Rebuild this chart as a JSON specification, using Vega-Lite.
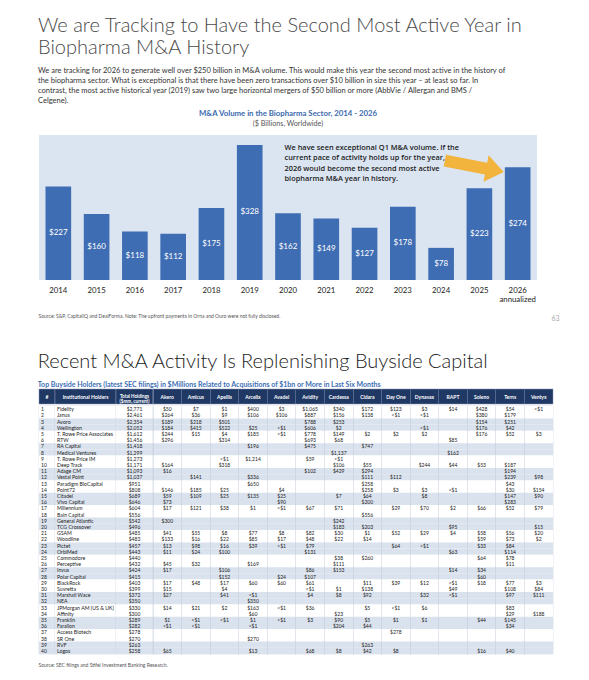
{
  "$schema": "https://vega.github.io/schema/vega-lite/v6.json",
  "padding": {"left": 37, "top": 15, "right": 4, "bottom": 4},
  "background": "white",
  "config": {"font": "Lato", "mark": {"font": "Lato"}, "text": {"font": "Lato"}, "view": {"stroke": null}},
  "datasets": {
    "bars": [
      {"year": "2014", "value": 227}, {"year": "2015", "value": 160}, {"year": "2016", "value": 118},
      {"year": "2017", "value": 112}, {"year": "2018", "value": 175}, {"year": "2019", "value": 328},
      {"year": "2020", "value": 162}, {"year": "2021", "value": 149}, {"year": "2022", "value": 127},
      {"year": "2023", "value": 178}, {"year": "2024", "value": 78}, {"year": "2025", "value": 223},
      {"year": "2026", "value": 274}
    ],
    "note": [
      {"note": "We have seen exceptional Q1 M&A volume."}
    ],
    "holders": [
      {"n": 1, "name": "Fidelity", "total": 2771}, {"n": 2, "name": "Janus", "total": 2461},
      {"n": 3, "name": "Avoro", "total": 2354}, {"n": 4, "name": "Wellington", "total": 2052},
      {"n": 5, "name": "T. Rowe Price Associates", "total": 1612}, {"n": 6, "name": "RTW", "total": 1456},
      {"n": 7, "name": "RA Capital", "total": 1418}, {"n": 8, "name": "Medical Ventures", "total": 1299},
      {"n": 9, "name": "T. Rowe Price IM", "total": 1273}, {"n": 10, "name": "Deep Track", "total": 1171},
      {"n": 11, "name": "Adage CM", "total": 1093}, {"n": 12, "name": "Vestal Point", "total": 1037},
      {"n": 13, "name": "Paradigm BioCapital", "total": 951}, {"n": 14, "name": "Point72", "total": 808},
      {"n": 15, "name": "Citadel", "total": 689}, {"n": 16, "name": "Vivo Capital", "total": 646},
      {"n": 17, "name": "Millennium", "total": 604}, {"n": 18, "name": "Bain Capital", "total": 556},
      {"n": 19, "name": "General Atlantic", "total": 542}, {"n": 20, "name": "TCG Crossover", "total": 496},
      {"n": 21, "name": "GSAM", "total": 485}, {"n": 22, "name": "Woodline", "total": 483},
      {"n": 23, "name": "Pictet", "total": 457}, {"n": 24, "name": "OrbiMed", "total": 443},
      {"n": 25, "name": "Commodore", "total": 440}, {"n": 26, "name": "Perceptive", "total": 432},
      {"n": 27, "name": "Invus", "total": 424}, {"n": 28, "name": "Polar Capital", "total": 415},
      {"n": 29, "name": "BlackRock", "total": 403}, {"n": 30, "name": "Suvretta", "total": 399},
      {"n": 31, "name": "Marshall Wace", "total": 372}, {"n": 32, "name": "NEA", "total": 350},
      {"n": 33, "name": "JPMorgan AM (US & UK)", "total": 330}, {"n": 34, "name": "Affinity", "total": 300},
      {"n": 35, "name": "Franklin", "total": 289}, {"n": 36, "name": "Farallon", "total": 282},
      {"n": 37, "name": "Access Biotech", "total": 278}, {"n": 38, "name": "SR One", "total": 270},
      {"n": 39, "name": "RVF", "total": 263}, {"n": 40, "name": "Logos", "total": 258}
    ],
    "cos": [
      {"co": "Akero"}, {"co": "Amicus"}, {"co": "Apellis"}, {"co": "Arcellx"}, {"co": "Avadel"},
      {"co": "Avidity"}, {"co": "Cardessa"}, {"co": "Cidara"}, {"co": "Day One"}, {"co": "Dynavax"},
      {"co": "RAPT"}, {"co": "Soleno"}, {"co": "Terns"}, {"co": "Ventyx"}
    ],
    "cells": [
      {"n": 1, "co": "Akero", "v": "$50"}, {"n": 1, "co": "Amicus", "v": "$7"}, {"n": 1, "co": "Apellis", "v": "$1"}, {"n": 1, "co": "Arcellx", "v": "$400"}, {"n": 1, "co": "Avadel", "v": "$3"}, {"n": 1, "co": "Avidity", "v": "$1,065"}, {"n": 1, "co": "Cardessa", "v": "$340"}, {"n": 1, "co": "Cidara", "v": "$172"}, {"n": 1, "co": "Day One", "v": "$123"}, {"n": 1, "co": "Dynavax", "v": "$3"}, {"n": 1, "co": "RAPT", "v": "$14"}, {"n": 1, "co": "Soleno", "v": "$428"}, {"n": 1, "co": "Terns", "v": "$54"}, {"n": 1, "co": "Ventyx", "v": "<$1"},
      {"n": 2, "co": "Akero", "v": "$264"}, {"n": 2, "co": "Amicus", "v": "$36"}, {"n": 2, "co": "Apellis", "v": "$9"}, {"n": 2, "co": "Arcellx", "v": "$106"}, {"n": 2, "co": "Avadel", "v": "$106"}, {"n": 2, "co": "Avidity", "v": "$887"}, {"n": 2, "co": "Cardessa", "v": "$156"}, {"n": 2, "co": "Cidara", "v": "$138"}, {"n": 2, "co": "Day One", "v": "<$1"}, {"n": 2, "co": "Dynavax", "v": "<$1"}, {"n": 2, "co": "Soleno", "v": "$380"}, {"n": 2, "co": "Terns", "v": "$179"},
      {"n": 3, "co": "Akero", "v": "$189"}, {"n": 3, "co": "Amicus", "v": "$218"}, {"n": 3, "co": "Apellis", "v": "$501"}, {"n": 3, "co": "Avidity", "v": "$788"}, {"n": 3, "co": "Cardessa", "v": "$253"}, {"n": 3, "co": "Soleno", "v": "$154"}, {"n": 3, "co": "Terns", "v": "$251"},
      {"n": 4, "co": "Akero", "v": "$184"}, {"n": 4, "co": "Amicus", "v": "$415"}, {"n": 4, "co": "Apellis", "v": "$522"}, {"n": 4, "co": "Arcellx", "v": "$25"}, {"n": 4, "co": "Avadel", "v": "<$1"}, {"n": 4, "co": "Avidity", "v": "$606"}, {"n": 4, "co": "Cardessa", "v": "$2"}, {"n": 4, "co": "Dynavax", "v": "<$1"}, {"n": 4, "co": "Soleno", "v": "$176"}, {"n": 4, "co": "Terns", "v": "$42"},
      {"n": 5, "co": "Akero", "v": "$244"}, {"n": 5, "co": "Amicus", "v": "$15"}, {"n": 5, "co": "Apellis", "v": "$4"}, {"n": 5, "co": "Arcellx", "v": "$185"}, {"n": 5, "co": "Avadel", "v": "<$1"}, {"n": 5, "co": "Avidity", "v": "$778"}, {"n": 5, "co": "Cardessa", "v": "$149"}, {"n": 5, "co": "Cidara", "v": "$2"}, {"n": 5, "co": "Day One", "v": "$2"}, {"n": 5, "co": "Dynavax", "v": "$2"}, {"n": 5, "co": "Soleno", "v": "$176"}, {"n": 5, "co": "Terns", "v": "$52"}, {"n": 5, "co": "Ventyx", "v": "$3"},
      {"n": 6, "co": "Akero", "v": "$296"}, {"n": 6, "co": "Apellis", "v": "$314"}, {"n": 6, "co": "Avidity", "v": "$693"}, {"n": 6, "co": "Cardessa", "v": "$68"}, {"n": 6, "co": "RAPT", "v": "$85"},
      {"n": 7, "co": "Arcellx", "v": "$196"}, {"n": 7, "co": "Avidity", "v": "$475"}, {"n": 7, "co": "Cidara", "v": "$747"},
      {"n": 8, "co": "Cardessa", "v": "$1,137"}, {"n": 8, "co": "RAPT", "v": "$162"},
      {"n": 9, "co": "Apellis", "v": "<$1"}, {"n": 9, "co": "Arcellx", "v": "$1,214"}, {"n": 9, "co": "Avidity", "v": "$59"}, {"n": 9, "co": "Cardessa", "v": "<$1"},
      {"n": 10, "co": "Akero", "v": "$164"}, {"n": 10, "co": "Apellis", "v": "$318"}, {"n": 10, "co": "Cardessa", "v": "$106"}, {"n": 10, "co": "Cidara", "v": "$55"}, {"n": 10, "co": "Dynavax", "v": "$244"}, {"n": 10, "co": "RAPT", "v": "$44"}, {"n": 10, "co": "Soleno", "v": "$53"}, {"n": 10, "co": "Terns", "v": "$187"},
      {"n": 11, "co": "Akero", "v": "$16"}, {"n": 11, "co": "Avidity", "v": "$102"}, {"n": 11, "co": "Cardessa", "v": "$429"}, {"n": 11, "co": "Cidara", "v": "$294"}, {"n": 11, "co": "Terns", "v": "$194"},
      {"n": 12, "co": "Amicus", "v": "$141"}, {"n": 12, "co": "Arcellx", "v": "$336"}, {"n": 12, "co": "Cidara", "v": "$111"}, {"n": 12, "co": "Day One", "v": "$112"}, {"n": 12, "co": "Terns", "v": "$239"}, {"n": 12, "co": "Ventyx", "v": "$98"},
      {"n": 13, "co": "Arcellx", "v": "$650"}, {"n": 13, "co": "Cidara", "v": "$258"}, {"n": 13, "co": "Terns", "v": "$43"},
      {"n": 14, "co": "Akero", "v": "$146"}, {"n": 14, "co": "Amicus", "v": "$185"}, {"n": 14, "co": "Apellis", "v": "$25"}, {"n": 14, "co": "Avadel", "v": "$4"}, {"n": 14, "co": "Cidara", "v": "$258"}, {"n": 14, "co": "Day One", "v": "$3"}, {"n": 14, "co": "Dynavax", "v": "$3"}, {"n": 14, "co": "RAPT", "v": "<$1"}, {"n": 14, "co": "Terns", "v": "$30"}, {"n": 14, "co": "Ventyx", "v": "$154"},
      {"n": 15, "co": "Akero", "v": "$59"}, {"n": 15, "co": "Amicus", "v": "$109"}, {"n": 15, "co": "Apellis", "v": "$25"}, {"n": 15, "co": "Arcellx", "v": "$135"}, {"n": 15, "co": "Avadel", "v": "$25"}, {"n": 15, "co": "Cardessa", "v": "$7"}, {"n": 15, "co": "Cidara", "v": "$64"}, {"n": 15, "co": "Dynavax", "v": "$8"}, {"n": 15, "co": "Terns", "v": "$147"}, {"n": 15, "co": "Ventyx", "v": "$90"},
      {"n": 16, "co": "Akero", "v": "$73"}, {"n": 16, "co": "Avadel", "v": "$90"}, {"n": 16, "co": "Cidara", "v": "$200"}, {"n": 16, "co": "Terns", "v": "$283"},
      {"n": 17, "co": "Akero", "v": "$17"}, {"n": 17, "co": "Amicus", "v": "$121"}, {"n": 17, "co": "Apellis", "v": "$38"}, {"n": 17, "co": "Arcellx", "v": "$1"}, {"n": 17, "co": "Avadel", "v": "<$1"}, {"n": 17, "co": "Avidity", "v": "$67"}, {"n": 17, "co": "Cardessa", "v": "$71"}, {"n": 17, "co": "Day One", "v": "$29"}, {"n": 17, "co": "Dynavax", "v": "$70"}, {"n": 17, "co": "RAPT", "v": "$2"}, {"n": 17, "co": "Soleno", "v": "$66"}, {"n": 17, "co": "Terns", "v": "$52"}, {"n": 17, "co": "Ventyx", "v": "$79"},
      {"n": 18, "co": "Cidara", "v": "$556"},
      {"n": 19, "co": "Akero", "v": "$300"}, {"n": 19, "co": "Cardessa", "v": "$242"},
      {"n": 20, "co": "Cardessa", "v": "$183"}, {"n": 20, "co": "Cidara", "v": "$203"}, {"n": 20, "co": "RAPT", "v": "$95"}, {"n": 20, "co": "Ventyx", "v": "$15"},
      {"n": 21, "co": "Akero", "v": "$41"}, {"n": 21, "co": "Amicus", "v": "$55"}, {"n": 21, "co": "Apellis", "v": "$8"}, {"n": 21, "co": "Arcellx", "v": "$77"}, {"n": 21, "co": "Avadel", "v": "$8"}, {"n": 21, "co": "Avidity", "v": "$82"}, {"n": 21, "co": "Cardessa", "v": "$30"}, {"n": 21, "co": "Cidara", "v": "$1"}, {"n": 21, "co": "Day One", "v": "$52"}, {"n": 21, "co": "Dynavax", "v": "$29"}, {"n": 21, "co": "RAPT", "v": "$4"}, {"n": 21, "co": "Soleno", "v": "$58"}, {"n": 21, "co": "Terns", "v": "$56"}, {"n": 21, "co": "Ventyx", "v": "$20"},
      {"n": 22, "co": "Akero", "v": "$133"}, {"n": 22, "co": "Amicus", "v": "$16"}, {"n": 22, "co": "Apellis", "v": "$22"}, {"n": 22, "co": "Arcellx", "v": "$85"}, {"n": 22, "co": "Avadel", "v": "$17"}, {"n": 22, "co": "Avidity", "v": "$48"}, {"n": 22, "co": "Cardessa", "v": "$22"}, {"n": 22, "co": "Cidara", "v": "$14"}, {"n": 22, "co": "Soleno", "v": "$59"}, {"n": 22, "co": "Terns", "v": "$73"}, {"n": 22, "co": "Ventyx", "v": "$2"},
      {"n": 23, "co": "Akero", "v": "$13"}, {"n": 23, "co": "Amicus", "v": "$98"}, {"n": 23, "co": "Apellis", "v": "$16"}, {"n": 23, "co": "Arcellx", "v": "$39"}, {"n": 23, "co": "Avadel", "v": "<$1"}, {"n": 23, "co": "Avidity", "v": "$79"}, {"n": 23, "co": "Day One", "v": "$64"}, {"n": 23, "co": "Dynavax", "v": "<$1"}, {"n": 23, "co": "Soleno", "v": "$33"}, {"n": 23, "co": "Terns", "v": "$84"},
      {"n": 24, "co": "Akero", "v": "$11"}, {"n": 24, "co": "Amicus", "v": "$24"}, {"n": 24, "co": "Apellis", "v": "$100"}, {"n": 24, "co": "Avidity", "v": "$131"}, {"n": 24, "co": "RAPT", "v": "$63"}, {"n": 24, "co": "Terns", "v": "$114"},
      {"n": 25, "co": "Cardessa", "v": "$38"}, {"n": 25, "co": "Cidara", "v": "$260"}, {"n": 25, "co": "Soleno", "v": "$64"}, {"n": 25, "co": "Terns", "v": "$78"},
      {"n": 26, "co": "Akero", "v": "$45"}, {"n": 26, "co": "Amicus", "v": "$32"}, {"n": 26, "co": "Arcellx", "v": "$169"}, {"n": 26, "co": "Cardessa", "v": "$111"}, {"n": 26, "co": "Terns", "v": "$11"},
      {"n": 27, "co": "Akero", "v": "$17"}, {"n": 27, "co": "Apellis", "v": "$106"}, {"n": 27, "co": "Avidity", "v": "$86"}, {"n": 27, "co": "Cardessa", "v": "$153"}, {"n": 27, "co": "RAPT", "v": "$14"}, {"n": 27, "co": "Soleno", "v": "$34"},
      {"n": 28, "co": "Apellis", "v": "$152"}, {"n": 28, "co": "Avadel", "v": "$24"}, {"n": 28, "co": "Avidity", "v": "$107"}, {"n": 28, "co": "Soleno", "v": "$60"},
      {"n": 29, "co": "Akero", "v": "$17"}, {"n": 29, "co": "Amicus", "v": "$48"}, {"n": 29, "co": "Apellis", "v": "$17"}, {"n": 29, "co": "Arcellx", "v": "$60"}, {"n": 29, "co": "Avadel", "v": "$60"}, {"n": 29, "co": "Avidity", "v": "$61"}, {"n": 29, "co": "Cidara", "v": "$11"}, {"n": 29, "co": "Day One", "v": "$39"}, {"n": 29, "co": "Dynavax", "v": "$12"}, {"n": 29, "co": "RAPT", "v": "<$1"}, {"n": 29, "co": "Soleno", "v": "$18"}, {"n": 29, "co": "Terns", "v": "$77"}, {"n": 29, "co": "Ventyx", "v": "$3"},
      {"n": 30, "co": "Akero", "v": "$15"}, {"n": 30, "co": "Apellis", "v": "$4"}, {"n": 30, "co": "Avidity", "v": "<$1"}, {"n": 30, "co": "Cardessa", "v": "$1"}, {"n": 30, "co": "Cidara", "v": "$138"}, {"n": 30, "co": "RAPT", "v": "$49"}, {"n": 30, "co": "Terns", "v": "$108"}, {"n": 30, "co": "Ventyx", "v": "$84"},
      {"n": 31, "co": "Akero", "v": "$27"}, {"n": 31, "co": "Apellis", "v": "$41"}, {"n": 31, "co": "Arcellx", "v": "<$1"}, {"n": 31, "co": "Avidity", "v": "$4"}, {"n": 31, "co": "Cardessa", "v": "$8"}, {"n": 31, "co": "Cidara", "v": "$92"}, {"n": 31, "co": "Dynavax", "v": "$32"}, {"n": 31, "co": "RAPT", "v": "<$1"}, {"n": 31, "co": "Terns", "v": "$97"}, {"n": 31, "co": "Ventyx", "v": "$111"},
      {"n": 32, "co": "Arcellx", "v": "$350"},
      {"n": 33, "co": "Akero", "v": "$14"}, {"n": 33, "co": "Amicus", "v": "$21"}, {"n": 33, "co": "Apellis", "v": "$2"}, {"n": 33, "co": "Arcellx", "v": "$163"}, {"n": 33, "co": "Avadel", "v": "<$1"}, {"n": 33, "co": "Avidity", "v": "$36"}, {"n": 33, "co": "Cidara", "v": "$5"}, {"n": 33, "co": "Day One", "v": "<$1"}, {"n": 33, "co": "Dynavax", "v": "$6"}, {"n": 33, "co": "Terns", "v": "$83"},
      {"n": 34, "co": "Arcellx", "v": "$60"}, {"n": 34, "co": "Cardessa", "v": "$23"}, {"n": 34, "co": "Terns", "v": "$29"}, {"n": 34, "co": "Ventyx", "v": "$188"},
      {"n": 35, "co": "Akero", "v": "$1"}, {"n": 35, "co": "Amicus", "v": "<$1"}, {"n": 35, "co": "Apellis", "v": "<$1"}, {"n": 35, "co": "Arcellx", "v": "$1"}, {"n": 35, "co": "Avadel", "v": "<$1"}, {"n": 35, "co": "Avidity", "v": "$3"}, {"n": 35, "co": "Cardessa", "v": "$90"}, {"n": 35, "co": "Cidara", "v": "$5"}, {"n": 35, "co": "Day One", "v": "$1"}, {"n": 35, "co": "Dynavax", "v": "$1"}, {"n": 35, "co": "Soleno", "v": "$44"}, {"n": 35, "co": "Terns", "v": "$145"},
      {"n": 36, "co": "Akero", "v": "<$1"}, {"n": 36, "co": "Amicus", "v": "<$1"}, {"n": 36, "co": "Arcellx", "v": "<$1"}, {"n": 36, "co": "Cardessa", "v": "$204"}, {"n": 36, "co": "Cidara", "v": "$44"}, {"n": 36, "co": "Terns", "v": "$34"},
      {"n": 37, "co": "Day One", "v": "$278"},
      {"n": 38, "co": "Arcellx", "v": "$270"},
      {"n": 39, "co": "Cidara", "v": "$263"},
      {"n": 40, "co": "Akero", "v": "$65"}, {"n": 40, "co": "Arcellx", "v": "$13"}, {"n": 40, "co": "Avidity", "v": "$68"}, {"n": 40, "co": "Cardessa", "v": "$8"}, {"n": 40, "co": "Cidara", "v": "$42"}, {"n": 40, "co": "Day One", "v": "$8"}, {"n": 40, "co": "Soleno", "v": "$16"}, {"n": 40, "co": "Terns", "v": "$40"}
    ]
  },
  "spacing": 30,
  "vconcat": [
    {
      "title": {
        "text": ["We are Tracking to Have the Second Most Active Year in", "Biopharma M&A History"],
        "subtitle": [
          "We are tracking for 2026 to generate well over $250 billion in M&A volume. This would make this year the second most active in the history of",
          "the biopharma sector. What is exceptional is that there have been zero transactions over $10 billion in size this year – at least so far. In",
          "contrast, the most active historical year (2019) saw two large horizontal mergers of $50 billion or more (AbbVie / Allergan and BMS /",
          "Celgene)."
        ],
        "anchor": "start", "font": "Lato", "fontSize": 20, "fontWeight": 300, "color": "#4a4a4a", "lineHeight": 22,
        "subtitleFont": "Lato", "subtitleFontSize": 7.5, "subtitleColor": "#333333", "subtitleLineHeight": 10,
        "subtitlePadding": 9, "offset": 6
      },
      "vconcat": [
        {
          "title": {
            "text": "M&A Volume in the Biopharma Sector, 2014 - 2026",
            "subtitle": "($ Billions, Worldwide)",
            "anchor": "middle", "font": "Lato", "fontSize": 7.8, "fontWeight": "bold", "color": "#3a69ad",
            "subtitleFont": "Lato", "subtitleFontSize": 7.2, "subtitleColor": "#555555", "subtitlePadding": 2, "offset": 8
          },
          "width": 498,
          "height": 145,
          "view": {"fill": "#dbe5f1", "stroke": null},
          "layer": [
            {
              "data": {"name": "bars"},
              "mark": {"type": "bar", "color": "#3f6db4"},
              "encoding": {
                "x": {
                  "field": "year", "type": "nominal",
                  "scale": {"type": "band", "paddingInner": 0.33, "paddingOuter": 0.17},
                  "axis": {
                    "title": "Source: S&P, CapitalIQ and DealForma. Note: The upfront payments in Orna and Ouro were not fully disclosed.",
                    "titleAnchor": "start", "titleAlign": "left", "titleX": -1, "titleY": 35, "titleBaseline": "middle",
                    "titleFont": "Lato", "titleFontSize": 5, "titleFontWeight": "normal", "titleColor": "#555555",
                    "labelAngle": 0, "labelFont": "Lato", "labelFontSize": 7.8, "labelColor": "#222222", "labelPadding": 6,
                    "labelLineHeight": 9.5, "labelBaseline": "top",
                    "labelExpr": "datum.label == '2026' ? ['2026', 'annualized'] : datum.label",
                    "ticks": false, "domain": false
                  }
                },
                "y": {
                  "field": "value", "type": "quantitative",
                  "scale": {"domain": [0, 352]},
                  "axis": {
                    "orient": "right", "labels": false, "ticks": false, "domain": false, "grid": false,
                    "title": "63", "titleAngle": 0, "titleX": 18, "titleY": 183, "titleAlign": "center",
                    "titleBaseline": "middle", "titleFont": "Lato", "titleFontSize": 7, "titleFontWeight": "normal", "titleColor": "#aaaaaa"
                  }
                }
              }
            },
            {
              "data": {"name": "bars"},
              "mark": {"type": "text", "font": "Lato", "color": "white", "fontSize": 8},
              "encoding": {
                "x": {"field": "year", "type": "nominal", "scale": {"type": "band", "paddingInner": 0.33, "paddingOuter": 0.17}},
                "y": {"field": "value", "type": "quantitative", "scale": {"domain": [0, 704]}, "axis": null},
                "text": {"field": "value", "type": "quantitative", "format": "$,d"}
              }
            },
            {
              "data": {"name": "note"},
              "mark": {
                "type": "text", "font": "Open Sans", "align": "left", "baseline": "top", "fontSize": 7.4, "fontWeight": 600,
                "color": "#222222", "lineHeight": 10.4, "dx": -3.5,
                "text": [
                  "We have seen exceptional Q1 M&A volume. If the",
                  "current pace of activity holds up for the year,",
                  "2026 would become the second most active",
                  "biopharma M&A year in history."
                ]
              },
              "encoding": {
                "x": {"datum": "2020", "type": "nominal", "scale": {"type": "band", "paddingInner": 0.33, "paddingOuter": 0.17}},
                "y": {"datum": 330, "type": "quantitative", "scale": {"domain": [0, 352]}, "axis": null}
              }
            },
            {
              "data": {"name": "note"},
              "mark": {
                "type": "point", "filled": true, "opacity": 1, "color": "#f2b43c", "size": 3600, "angle": 11,
                "shape": "M-1,-0.2L0.4,-0.2L0.4,-0.45L1,0L0.4,0.45L0.4,0.2L-1,0.2Z"
              },
              "encoding": {
                "x": {"datum": "2025", "type": "nominal", "bandPosition": 0.3, "scale": {"type": "band", "paddingInner": 0.33, "paddingOuter": 0.17}},
                "y": {"datum": 276, "type": "quantitative", "scale": {"domain": [0, 352]}, "axis": null}
              }
            }
          ],
          "resolve": {"scale": {"y": "independent"}}
        }
      ]
    },
    {
      "title": {
        "text": "Recent M&A Activity Is Replenishing Buyside Capital",
        "subtitle": "Top Buyside Holders (latest SEC filings) in $Millions Related to Acquisitions of $1bn or More in Last Six Months",
        "anchor": "start", "font": "Lato", "fontSize": 20, "fontWeight": 300, "color": "#222222",
        "subtitleFont": "Lato", "subtitleFontSize": 7, "subtitleFontWeight": "bold", "subtitleColor": "#3c6eb4",
        "subtitlePadding": 9, "offset": 1
      },
      "spacing": 0,
      "vconcat": [
        {
          "spacing": 0,
          "bounds": "flush",
          "hconcat": [
            {
              "width": 16, "height": 15,
              "view": {"fill": "#1f3864", "stroke": "#8a97b5", "strokeWidth": 0.5},
              "data": {"values": [{"h": "#"}]},
              "mark": {"type": "text", "font": "Lato", "color": "white", "fontSize": 5, "fontWeight": "bold"},
              "encoding": {"text": {"field": "h"}}
            },
            {
              "width": 61, "height": 15,
              "view": {"fill": "#1f3864", "stroke": "#8a97b5", "strokeWidth": 0.5},
              "data": {"values": [{"h": "Institutional Holders"}]},
              "mark": {"type": "text", "font": "Lato", "color": "white", "fontSize": 5, "fontWeight": "bold"},
              "encoding": {"text": {"field": "h"}}
            },
            {
              "width": 37, "height": 15,
              "view": {"fill": "#1f3864", "stroke": "#8a97b5", "strokeWidth": 0.5},
              "data": {"values": [{"h": ["Total Holdings", "($mm, current)"]}]},
              "mark": {"type": "text", "font": "Lato", "color": "white", "fontSize": 4.6, "fontWeight": "bold", "lineHeight": 5.6},
              "encoding": {"text": {"field": "h"}}
            },
            {
              "width": 400, "height": 15,
              "view": {"fill": "#1f3864", "stroke": "#8a97b5", "strokeWidth": 0.5},
              "data": {"name": "cos"},
              "mark": {"type": "text", "font": "Lato", "color": "white", "fontSize": 5, "fontWeight": "bold"},
              "encoding": {
                "x": {"field": "co", "type": "nominal", "scale": {"type": "band", "paddingInner": 0, "paddingOuter": 0},
                  "axis": {"grid": true, "bandPosition": 0, "labels": false, "ticks": false, "domain": false, "title": null, "gridColor": "#8a97b5", "gridWidth": 0.5, "zindex": 1}},
                "text": {"field": "co", "type": "nominal"}
              }
            }
          ]
        },
        {
          "spacing": 0,
          "bounds": "flush",
          "hconcat": [
            {
              "width": 16, "height": 248,
              "view": {"stroke": "#c3cbd8", "strokeWidth": 0.5},
              "data": {"name": "holders"},
              "layer": [
                {
                  "mark": {"type": "rect"},
                  "encoding": {
                    "y": {"field": "n", "type": "ordinal", "scale": {"paddingInner": 0, "paddingOuter": 0},
                      "axis": {"grid": true, "bandPosition": 0, "labels": false, "ticks": false, "domain": false, "title": null, "gridColor": "#c3cbd8", "gridWidth": 0.5, "zindex": 1}},
                    "color": {"condition": {"test": "(datum.n - 1) % 4 >= 2", "value": "#dae2ee"}, "value": "white"}
                  }
                },
                {
                  "mark": {"type": "text", "font": "Lato", "align": "left", "dx": 2, "fontSize": 5, "color": "#222222"},
                  "encoding": {
                    "x": {"datum": "#", "type": "nominal", "bandPosition": 0, "scale": {"type": "band", "paddingInner": 0, "paddingOuter": 0},
                      "axis": {"labels": false, "ticks": false, "domain": false,
                        "title": "Source: SEC filings and Stifel Investment Banking Research.",
                        "titleAnchor": "start", "titleAlign": "left", "titleX": -1, "titleY": 10.5, "titleBaseline": "middle",
                        "titleFont": "Lato", "titleFontSize": 5, "titleFontWeight": "normal", "titleColor": "#555555"}},
                    "y": {"field": "n", "type": "ordinal", "scale": {"paddingInner": 0, "paddingOuter": 0}, "axis": null},
                    "text": {"field": "n", "type": "ordinal"}
                  }
                }
              ]
            },
            {
              "width": 61, "height": 248,
              "view": {"stroke": "#c3cbd8", "strokeWidth": 0.5},
              "data": {"name": "holders"},
              "layer": [
                {
                  "mark": {"type": "rect"},
                  "encoding": {
                    "y": {"field": "n", "type": "ordinal", "scale": {"paddingInner": 0, "paddingOuter": 0},
                      "axis": {"grid": true, "bandPosition": 0, "labels": false, "ticks": false, "domain": false, "title": null, "gridColor": "#c3cbd8", "gridWidth": 0.5, "zindex": 1}},
                    "color": {"condition": {"test": "(datum.n - 1) % 4 >= 2", "value": "#dae2ee"}, "value": "white"}
                  }
                },
                {
                  "mark": {"type": "text", "font": "Lato", "align": "left", "dx": 2, "fontSize": 5.2, "color": "#222222"},
                  "encoding": {
                    "x": {"datum": "Institutional Holders", "type": "nominal", "bandPosition": 0, "scale": {"type": "band", "paddingInner": 0, "paddingOuter": 0}, "axis": null},
                    "y": {"field": "n", "type": "ordinal", "scale": {"paddingInner": 0, "paddingOuter": 0}, "axis": null},
                    "text": {"field": "name", "type": "nominal"}
                  }
                }
              ]
            },
            {
              "width": 37, "height": 248,
              "view": {"stroke": "#c3cbd8", "strokeWidth": 0.5},
              "data": {"name": "holders"},
              "layer": [
                {
                  "mark": {"type": "rect"},
                  "encoding": {
                    "y": {"field": "n", "type": "ordinal", "scale": {"paddingInner": 0, "paddingOuter": 0},
                      "axis": {"grid": true, "bandPosition": 0, "labels": false, "ticks": false, "domain": false, "title": null, "gridColor": "#c3cbd8", "gridWidth": 0.5, "zindex": 1}},
                    "color": {"condition": {"test": "(datum.n - 1) % 4 >= 2", "value": "#dae2ee"}, "value": "white"}
                  }
                },
                {
                  "mark": {"type": "text", "font": "Lato", "fontSize": 5, "color": "#222222"},
                  "encoding": {
                    "y": {"field": "n", "type": "ordinal", "scale": {"paddingInner": 0, "paddingOuter": 0}, "axis": null},
                    "text": {"field": "total", "type": "quantitative", "format": "$,d"}
                  }
                }
              ]
            },
            {
              "width": 400, "height": 248,
              "view": {"stroke": "#c3cbd8", "strokeWidth": 0.5},
              "layer": [
                {
                  "data": {"name": "holders"},
                  "mark": {"type": "rect"},
                  "encoding": {
                    "y": {"field": "n", "type": "ordinal", "scale": {"paddingInner": 0, "paddingOuter": 0},
                      "axis": {"orient": "right", "grid": true, "bandPosition": 0, "labels": false, "ticks": false, "domain": false,
                        "gridColor": "#c3cbd8", "gridWidth": 0.5, "zindex": 1,
                        "title": "64", "titleAngle": 0, "titleX": 10, "titleY": 250, "titleAlign": "center", "titleBaseline": "middle",
                        "titleFont": "Lato", "titleFontSize": 7, "titleFontWeight": "normal", "titleColor": "#aaaaaa"}},
                    "color": {"condition": {"test": "(datum.n - 1) % 4 >= 2", "value": "#dae2ee"}, "value": "white"}
                  }
                },
                {
                  "data": {"name": "cells"},
                  "mark": {"type": "text", "font": "Lato", "fontSize": 5, "color": "#222222"},
                  "encoding": {
                    "x": {"field": "co", "type": "nominal", "scale": {"type": "band", "paddingInner": 0, "paddingOuter": 0},
                      "axis": {"grid": true, "bandPosition": 0, "labels": false, "ticks": false, "domain": false, "title": null, "gridColor": "#c3cbd8", "gridWidth": 0.5, "zindex": 1}},
                    "y": {"field": "n", "type": "ordinal", "scale": {"paddingInner": 0, "paddingOuter": 0}, "axis": null},
                    "text": {"field": "v", "type": "nominal"}
                  }
                }
              ]
            }
          ]
        }
      ]
    }
  ]
}
